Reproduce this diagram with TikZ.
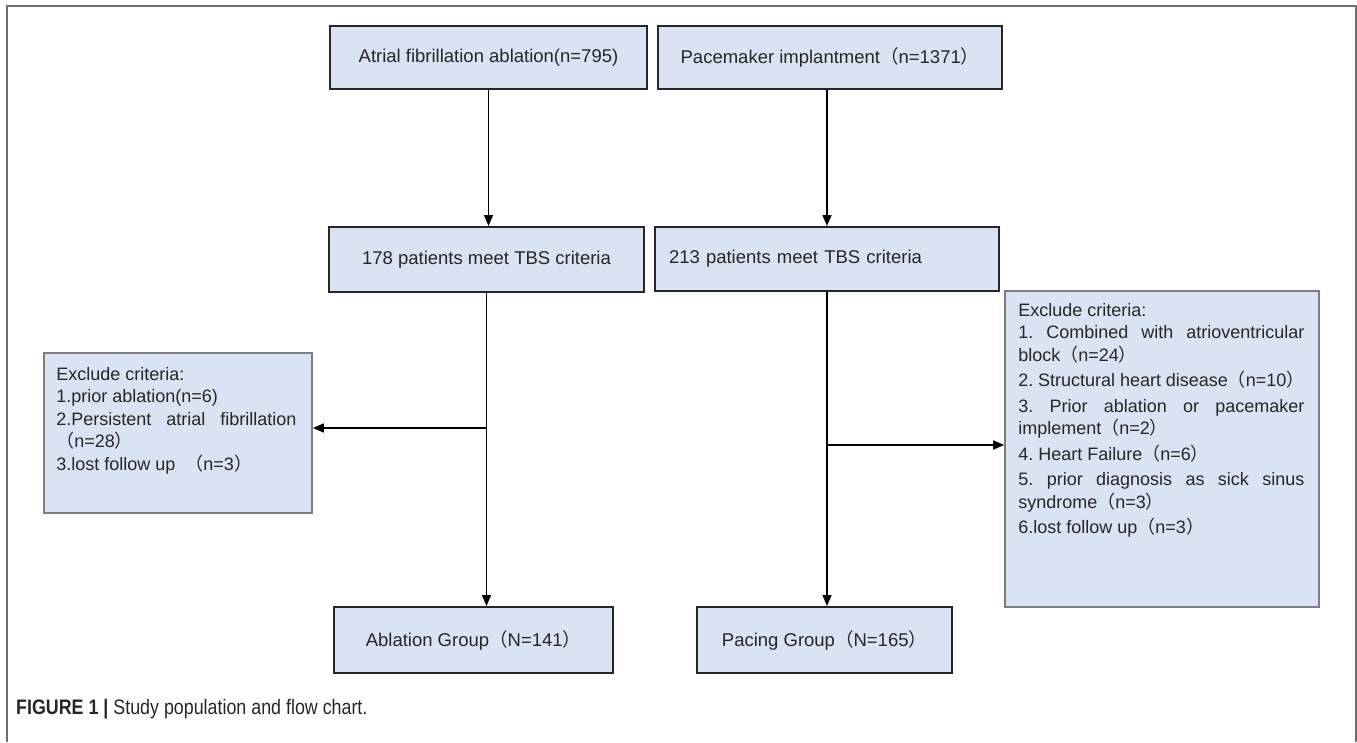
\documentclass[tikz,border=0pt]{standalone}
\usepackage{fontspec}
\setmainfont{Liberation Sans}
\newfontfamily\cjk{Noto Sans CJK SC}
\newfontfamily\capfont[FakeStretch=0.85]{Liberation Sans}
\usetikzlibrary{arrows.meta}
\definecolor{boxfill}{RGB}{218,227,243}
\definecolor{framegray}{RGB}{110,110,110}
\definecolor{listgray}{RGB}{125,125,125}
\newcommand{\fwpar}[1]{{\cjk （}#1{\cjk ）}}
\tikzset{
    stage/.style={
        draw=black!85,
        line width=2pt,
        fill=boxfill,
        text=black!85,
        font=\fontsize{18.5}{22}\selectfont},
    exclbox/.style={
        draw=listgray,
        line width=1.6pt,
        fill=boxfill},
    exclist/.style={
        inner sep=0pt,
        anchor=north west,
        align=justify,
        text=black!85,
        font=\fontsize{18}{22.5}\selectfont\frenchspacing},
    flow/.style={
        draw,
        -{Triangle[length=11pt,width=9pt]},
        line width=1.5pt}}

\begin{document}
\begin{tikzpicture}[x=1pt,y=-1pt]
    \useasboundingbox (0,0) rectangle (1357,742);
    \draw[framegray, line width=1.5pt] (7,742) -- (7,6) -- (1356,6) -- (1356,742);
    \node[stage, minimum width=317pt, minimum height=63pt] (afa) at (488.5,57.5) {Atrial fibrillation ablation(n=795)};
    \node[stage, minimum width=344pt, minimum height=63pt] (pmi) at (830,57.5) {Pacemaker implantment\fwpar{n=1371}};
    \node[stage, minimum width=315pt, minimum height=65pt] (tbsA) at (486.5,259.5) {178 patients meet TBS criteria};
    \node[stage, minimum width=344pt, minimum height=64pt, text width=316pt, align=left] (tbsP) at (827,259) {213 patients meet TBS criteria};
    \node[exclbox, minimum width=268pt, minimum height=160pt] (exA) at (178,433) {};
    \node[exclist, text width=240pt] (exAlist) at ([xshift=13pt,yshift=-15pt]exA.north west) {Exclude criteria:\\
        1.prior ablation(n=6)\\
        2.Persistent atrial fibrillation\linebreak\fwpar{n=28}\\
        3.lost follow up~~\fwpar{n=3}};
    \node[exclbox, minimum width=314pt, minimum height=316pt] (exP) at (1162,449) {};
    \node[exclist, text width=286pt] (exPlist) at ([xshift=14pt,yshift=-13pt]exP.north west) {Exclude criteria:\\
        1. Combined with atrioventricular\linebreak block\fwpar{n=24}\\[3pt]
        2. Structural heart disease\fwpar{n=10}\\[3pt]
        3. Prior ablation or pacemaker\linebreak implement\fwpar{n=2}\\[3pt]
        4. Heart Failure\fwpar{n=6}\\[3pt]
        5. prior diagnosis as sick sinus\linebreak syndrome\fwpar{n=3}\\[3pt]
        6.lost follow up\fwpar{n=3}};
    \node[stage, minimum width=279pt, minimum height=66pt] (grpA) at (473.5,640) {Ablation Group\fwpar{N=141}};
    \node[stage, minimum width=255pt, minimum height=66pt] (grpP) at (824.5,640) {Pacing Group\fwpar{N=165}};
    \draw[flow] (afa.south) -- (afa.south |- tbsA.north);
    \draw[flow] (tbsP.north |- pmi.south) -- (tbsP.north);
    \draw[flow] (tbsA.south) -- (tbsA.south |- grpA.north);
    \draw[flow] (tbsP.south) -- (tbsP.south |- grpP.north);
    \draw[flow] ([yshift=5pt]exA.east -| tbsA.south) -- ([yshift=5pt]exA.east);
    \draw[flow] ([yshift=4pt]exP.west -| tbsP.south) -- ([yshift=4pt]exP.west);
    \node[anchor=base west, inner sep=0pt, text=black!85, font=\fontsize{21}{24}\selectfont\capfont] (caption) at (16,714) {\textbf{FIGURE 1 |} Study population and flow chart.};
\end{tikzpicture}
\end{document}
